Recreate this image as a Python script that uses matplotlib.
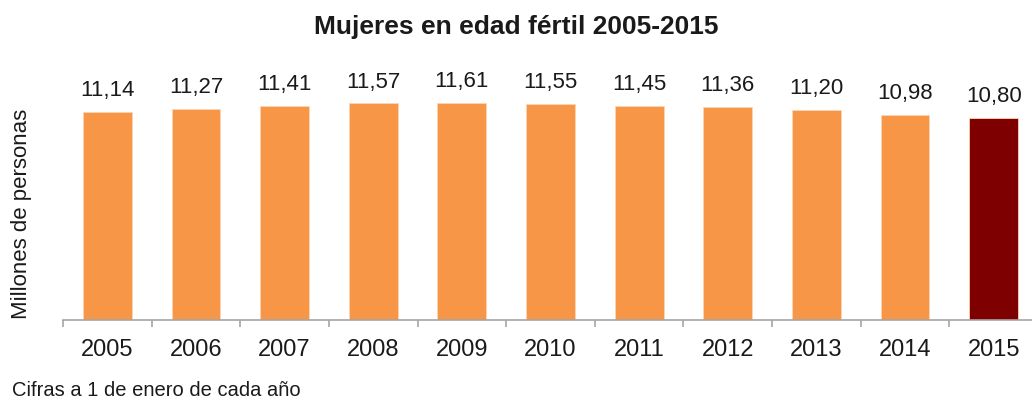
import matplotlib
matplotlib.use("Agg")
import matplotlib.pyplot as plt
import numpy as np

years = ["2005", "2006", "2007", "2008", "2009", "2010", "2011", "2012", "2013", "2014", "2015"]
values = [11.14, 11.27, 11.41, 11.57, 11.61, 11.55, 11.45, 11.36, 11.20, 10.98, 10.80]
labels = ["11,14", "11,27", "11,41", "11,57", "11,61", "11,55", "11,45", "11,36", "11,20", "10,98", "10,80"]
colors = ["#F79646"] * 10 + ["#7F0000"]

title = "Mujeres en edad fértil 2005-2015"
ylabel = "Millones de personas"
footnote = "Cifras a 1 de enero de cada año"

plt.rcParams['font.family'] = ['Liberation Sans', 'DejaVu Sans']

W, H = 1032, 403
fig = plt.figure(figsize=(W / 100, H / 100), dpi=100)
ax = fig.add_axes([63 / W, 83 / H, 975 / W, 262 / H])

x = np.arange(len(years))
ax.bar(x, values, width=0.55, color=colors, edgecolor="#FCD5B4", linewidth=0.6)
for xi, v, lab in zip(x, values, labels):
    ax.annotate(lab, (xi, v), xytext=(0, 11.5), textcoords="offset points",
                ha="center", va="baseline", fontsize=16, color="#1a1a1a")

ax.set_xlim(-0.5, len(years) - 0.5)
ax.set_ylim(0, 14)
ax.set_xticks(x)
ax.set_xticklabels(years, fontsize=17, color="#1a1a1a")
ax.set_xticks(np.arange(-0.5, len(years), 1.0), minor=True)
ax.tick_params(axis="x", which="major", length=0, pad=14)
ax.tick_params(axis="x", which="minor", length=5, color="#A6A6A6", width=1.2)
ax.set_yticks([])
for s in ["top", "right", "left"]:
    ax.spines[s].set_visible(False)
ax.spines["bottom"].set_color("#A6A6A6")
ax.spines["bottom"].set_linewidth(1.2)

fig.text(0.5, 1 - 27 / H, title, ha="center", va="center", fontsize=19, fontweight="bold", color="#1a1a1a")
fig.text(22 / W, 1 - 214 / H, ylabel, ha="center", va="center", rotation=90, fontsize=16, color="#1a1a1a")
fig.text(12 / W, 1 - 391 / H, footnote, ha="left", va="center", fontsize=14.5, color="#1a1a1a")

fig.savefig("out.png", dpi=100)
